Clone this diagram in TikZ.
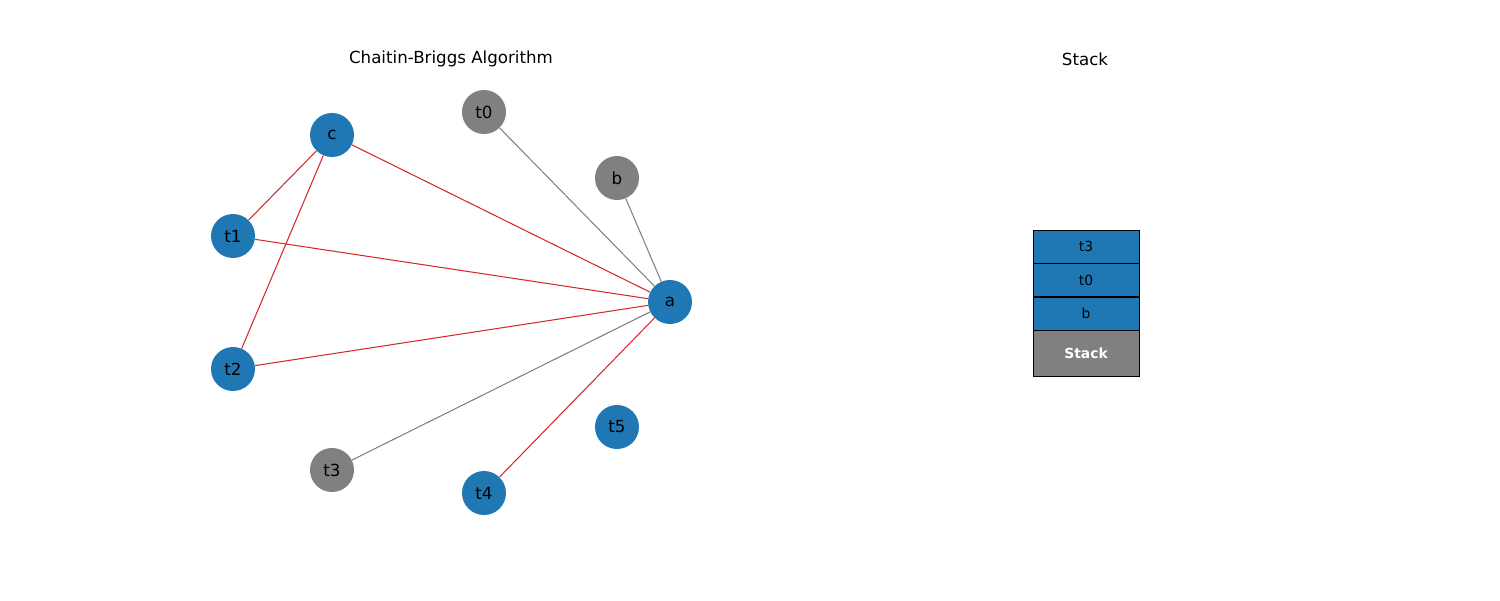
\documentclass[tikz,border=0pt]{standalone}
\usepackage{fontspec}
\setmainfont{DejaVu Sans}
\usetikzlibrary{backgrounds}
\definecolor{mblue}{HTML}{1F77B4}
\definecolor{mgray}{HTML}{808080}
\definecolor{mred}{HTML}{D62728}
\tikzset{
  vnode/.style={circle,minimum size=31.7pt,inner sep=0pt,font=\fontsize{12}{14}\selectfont},
  bluev/.style={vnode,fill=mblue},
  grayv/.style={vnode,fill=mgray},
  redge/.style={draw=mred,line width=0.75pt},
  gedge/.style={draw=mgray,line width=0.75pt},
  stackbox/.style={draw=black,line width=0.6pt,fill=mblue,minimum width=76.3pt,minimum height=23.8pt,inner sep=0pt,font=\fontsize{10}{12}\selectfont},
  stackbase/.style={draw=black,line width=0.6pt,fill=mgray,minimum width=76.3pt,minimum height=33.1pt,inner sep=0pt,text=white,font=\fontsize{10}{12}\selectfont\bfseries},
  title/.style={font=\fontsize{12}{14}\selectfont}
}
\begin{document}
\begin{tikzpicture}[x=0.72pt,y=-0.72pt]
\useasboundingbox (0,0) rectangle (1500,600);
\node[title] (t1t) at (451,59) {Chaitin-Briggs Algorithm};
\node[title] (t2t) at (1085,59) {Stack};
\node[bluev] (c) at (332,135) {c};
\node[grayv] (t0) at (484,112) {t0};
\node[grayv] (b) at (617,178) {b};
\node[bluev] (t1) at (233,236) {t1};
\node[bluev] (a) at (670,302) {a};
\node[bluev] (t2) at (233,369) {t2};
\node[grayv] (t3) at (332,470) {t3};
\node[bluev] (t4) at (484,493) {t4};
\node[bluev] (t5) at (617,427) {t5};
\begin{pgfonlayer}{background}
\draw[redge] (c) -- (t1);
\draw[redge] (c) -- (t2);
\draw[redge] (c) -- (a);
\draw[redge] (t1) -- (a);
\draw[redge] (t2) -- (a);
\draw[redge] (t4) -- (a);
\draw[gedge] (t0) -- (a);
\draw[gedge] (b) -- (a);
\draw[gedge] (t3) -- (a);
\end{pgfonlayer}
\node[stackbox] (s3) at (1086,246.5) {t3};
\node[stackbox] (s0) at (1086,280) {t0};
\node[stackbox] (sb) at (1086,313.5) {b};
\node[stackbase] (ss) at (1086,353) {Stack};
\end{tikzpicture}
\end{document}
